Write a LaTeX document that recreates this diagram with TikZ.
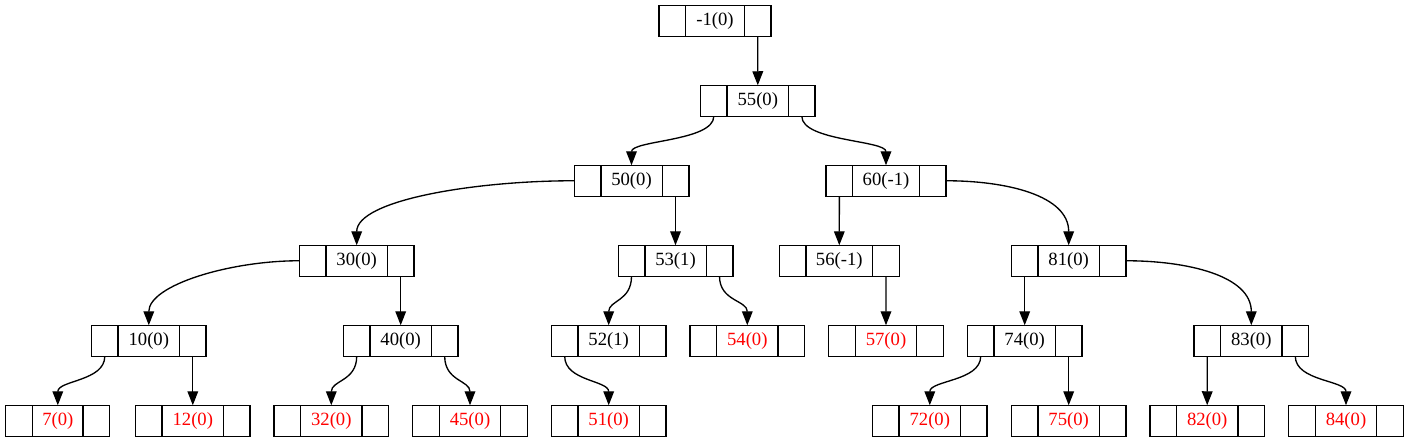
\documentclass[tikz,border=0pt]{standalone}
\usepackage{fontspec}
\setmainfont{Liberation Serif}
\usetikzlibrary{positioning,arrows.meta}
\tikzset{
  cell/.style={draw, line width=1pt, minimum width=46pt, minimum height=23.25pt,
    inner sep=0pt, outer sep=0pt, font=\fontsize{14pt}{16pt}\selectfont},
  port/.style={cell, minimum width=20pt},
  leaf/.style={cell, text=red},
  link/.style={line width=1pt, -{Triangle[length=10.5pt,width=8pt]}},
}
\begin{document}
\begin{tikzpicture}[x=0.75pt, y=-0.75pt]
  \useasboundingbox (0,0) rectangle (1409,443);
  % records: middle cell with the key, empty port cells on both sides
  \node[cell, minimum width=44pt] (top) at (715,20.75) {-1(0)};
  \node[port, left=0pt of top] (topl) {};
  \node[port, right=0pt of top] (topr) {};
  \node[cell] (n55) at (757.8,100.75) {55(0)};
  \node[port, left=0pt of n55] (n55l) {};
  \node[port, right=0pt of n55] (n55r) {};
  \node[cell] (n50) at (631.5,180.75) {50(0)};
  \node[port, left=0pt of n50] (n50l) {};
  \node[port, right=0pt of n50] (n50r) {};
  \node[cell, minimum width=50pt] (n60) at (886,180.75) {60(-1)};
  \node[port, left=0pt of n60] (n60l) {};
  \node[port, right=0pt of n60] (n60r) {};
  \node[cell] (n30) at (356.7,260.75) {30(0)};
  \node[port, left=0pt of n30] (n30l) {};
  \node[port, right=0pt of n30] (n30r) {};
  \node[cell] (n53) at (675.5,260.75) {53(1)};
  \node[port, left=0pt of n53] (n53l) {};
  \node[port, right=0pt of n53] (n53r) {};
  \node[cell, minimum width=50pt] (n56) at (839.3,260.75) {56(-1)};
  \node[port, left=0pt of n56] (n56l) {};
  \node[port, right=0pt of n56] (n56r) {};
  \node[cell] (n81) at (1068.7,260.75) {81(0)};
  \node[port, left=0pt of n81] (n81l) {};
  \node[port, right=0pt of n81] (n81r) {};
  \node[cell] (n10) at (148.8,340.75) {10(0)};
  \node[port, left=0pt of n10] (n10l) {};
  \node[port, right=0pt of n10] (n10r) {};
  \node[cell] (n40) at (400.7,340.75) {40(0)};
  \node[port, left=0pt of n40] (n40l) {};
  \node[port, right=0pt of n40] (n40r) {};
  \node[cell] (n52) at (608.7,340.75) {52(1)};
  \node[port, left=0pt of n52] (n52l) {};
  \node[port, right=0pt of n52] (n52r) {};
  \node[leaf] (n54) at (747.3,340.75) {54(0)};
  \node[port, left=0pt of n54] (n54l) {};
  \node[port, right=0pt of n54] (n54r) {};
  \node[leaf] (n57) at (886,340.75) {57(0)};
  \node[port, left=0pt of n57] (n57l) {};
  \node[port, right=0pt of n57] (n57r) {};
  \node[cell] (n74) at (1024.7,340.75) {74(0)};
  \node[port, left=0pt of n74] (n74l) {};
  \node[port, right=0pt of n74] (n74r) {};
  \node[cell] (n83) at (1251.3,340.75) {83(0)};
  \node[port, left=0pt of n83] (n83l) {};
  \node[port, right=0pt of n83] (n83r) {};
  \node[leaf, minimum width=38pt] (n7) at (57.8,420.75) {7(0)};
  \node[port, left=0pt of n7] (n7l) {};
  \node[port, right=0pt of n7] (n7r) {};
  \node[leaf] (n12) at (192.8,420.75) {12(0)};
  \node[port, left=0pt of n12] (n12l) {};
  \node[port, right=0pt of n12] (n12r) {};
  \node[leaf] (n32) at (331.3,420.75) {32(0)};
  \node[port, left=0pt of n32] (n32l) {};
  \node[port, right=0pt of n32] (n32r) {};
  \node[leaf] (n45) at (470,420.75) {45(0)};
  \node[port, left=0pt of n45] (n45l) {};
  \node[port, right=0pt of n45] (n45r) {};
  \node[leaf] (n51) at (608.7,420.75) {51(0)};
  \node[port, left=0pt of n51] (n51l) {};
  \node[port, right=0pt of n51] (n51r) {};
  \node[leaf] (n72) at (929.8,420.75) {72(0)};
  \node[port, left=0pt of n72] (n72l) {};
  \node[port, right=0pt of n72] (n72r) {};
  \node[leaf] (n75) at (1068.7,420.75) {75(0)};
  \node[port, left=0pt of n75] (n75l) {};
  \node[port, right=0pt of n75] (n75r) {};
  \node[leaf] (n82) at (1207.2,420.75) {82(0)};
  \node[port, left=0pt of n82] (n82l) {};
  \node[port, right=0pt of n82] (n82r) {};
  \node[leaf] (n84) at (1346,420.75) {84(0)};
  \node[port, left=0pt of n84] (n84l) {};
  \node[port, right=0pt of n84] (n84r) {};
  % links
  \draw[link] (topr.south) -- (n55.north);
  \draw[link] (n55l.south) .. controls +(0,25) and +(0,-25) .. (n50.north);
  \draw[link] (n55r.south) .. controls +(0,25) and +(0,-25) .. (n60.north);
  \draw[link] (n50l.west) .. controls +(-100,0) and +(0,-45) .. (n30.north);
  \draw[link] (n50r.south) -- (n53.north);
  \draw[link] (n60l.south) -- (n56.north);
  \draw[link] (n60r.east) .. controls +(60,0) and +(0,-50) .. (n81.north);
  \draw[link] (n30l.west) .. controls +(-70,0) and +(0,-40) .. (n10.north);
  \draw[link] (n30r.south) -- (n40.north);
  \draw[link] (n53l.south) .. controls +(0,25) and +(0,-25) .. (n52.north);
  \draw[link] (n53r.south) .. controls +(0,25) and +(0,-25) .. (n54.north);
  \draw[link] (n56r.south) -- (n57.north);
  \draw[link] (n81l.south) -- (n74.north);
  \draw[link] (n81r.east) .. controls +(60,0) and +(0,-50) .. (n83.north);
  \draw[link] (n10l.south) .. controls +(0,25) and +(0,-25) .. (n7.north);
  \draw[link] (n10r.south) -- (n12.north);
  \draw[link] (n40l.south) .. controls +(0,25) and +(0,-25) .. (n32.north);
  \draw[link] (n40r.south) .. controls +(0,25) and +(0,-25) .. (n45.north);
  \draw[link] (n52l.south) .. controls +(0,25) and +(0,-25) .. (n51.north);
  \draw[link] (n74l.south) .. controls +(0,25) and +(0,-25) .. (n72.north);
  \draw[link] (n74r.south) -- (n75.north);
  \draw[link] (n83l.south) -- (n82.north);
  \draw[link] (n83r.south) .. controls +(0,25) and +(0,-25) .. (n84.north);
\end{tikzpicture}
\end{document}
